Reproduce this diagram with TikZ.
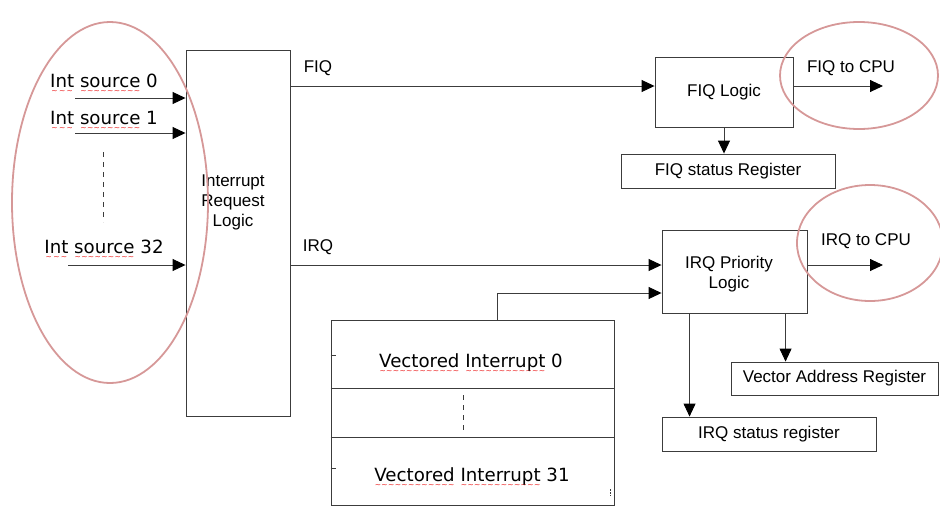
\documentclass[tikz,border=0pt]{standalone}
\usepackage{fontspec}
\setmainfont{Liberation Sans}
\newfontfamily\dejavu{DejaVu Sans}
\usetikzlibrary{arrows.meta,positioning}
\definecolor{ringred}{RGB}{214,152,152}
\definecolor{wirey}{RGB}{60,60,60}
\definecolor{spellred}{RGB}{235,30,30}
\newcommand{\spell}[1]{\setbox0\hbox{#1}\rlap{\lower6.5pt\hbox to\wd0{\color{spellred}\dejavu\fontsize{7.5}{7.5}\selectfont\xleaders\hbox{\char"223C}\hfill}}\box0\relax}

\begin{document}
\begin{tikzpicture}[x=1pt, y=-1pt,
  box/.style={draw=wirey, line width=0.9pt, inner sep=0pt, align=center, font=\fontsize{17}{20}\selectfont},
  lbl/.style={inner sep=0pt, align=center, font=\fontsize{17}{20}\selectfont},
  src/.style={inner sep=0pt, anchor=base, font=\dejavu\fontsize{18.2}{20}\selectfont},
  wire/.style={draw=wirey, line width=0.9pt},
  arr/.style={wire, -{Triangle[length=13pt,width=12pt,color=black]}},
  ring/.style={draw=ringred, line width=1.8pt}]
\useasboundingbox (0,0) rectangle (940,507);

% request logic and sources
\node[box, minimum width=104pt, minimum height=366pt] (irl) at (238,233) {};
\node[lbl] (irltext) at (233,202) {Interrupt\\Request\\Logic};
\node[src] (s0) at (104,87) {\spell{Int} \spell{source} 0};
\node[src] (s1) at (104,124) {\spell{Int} \spell{source} 1};
\node[src] (s32) at (104,253) {\spell{Int} \spell{source} 32};
\coordinate (s0in) at (75,98);
\coordinate (s1in) at (75,133);
\coordinate (s32in) at (68,265);
\draw[arr] (s0in) -- (irl.west |- s0in);
\draw[arr] (s1in) -- (irl.west |- s1in);
\draw[arr] (s32in) -- (irl.west |- s32in);
\draw[wire, dash pattern=on 5pt off 5pt] (103,152) -- (103,222);

% FIQ path
\node[lbl] (fiqlbl) at (318,68) {FIQ};
\node[box, minimum width=138pt, minimum height=70pt] (fiql) at (724,92) {FIQ Logic};
\node[lbl] (fiqcpu) at (851,68) {FIQ to CPU};
\node[box, minimum width=214pt, minimum height=34pt] (fiqsr) at (728,171) {FIQ status Register};
\coordinate (fiqline) at (0,86);
\coordinate (fiqout) at (883,86);
\draw[arr] (irl.east |- fiqline) -- (fiql.west |- fiqline);
\draw[arr] (fiql.east |- fiqout) -- (fiqout);
\draw[arr] (fiql.south) -- (fiql.south |- fiqsr.north);

% IRQ path
\node[lbl] (irqlbl) at (318,247) {IRQ};
\node[box, minimum width=145pt, minimum height=83pt] (irqpl) at (734.5,271.5) {};
\node[lbl] (irqtext) at (729,274) {IRQ Priority\\Logic};
\node[lbl] (irqcpu) at (866,241) {IRQ to CPU};
\node[box, minimum width=207pt, minimum height=33pt] (var) at (834.5,378.5) {Vector Address Register};
\node[box, minimum width=214pt, minimum height=34pt] (irqsr) at (769,434) {IRQ status register};
\coordinate (irqline) at (0,265);
\coordinate (irqout) at (883,265);
\draw[arr] (irl.east |- irqline) -- (irqpl.west |- irqline);
\draw[arr] (irqpl.east |- irqout) -- (irqout);
\draw[arr] ([xshift=28pt]irqpl.south west) -- ([xshift=28pt]irqpl.south west |- irqsr.north);
\draw[arr] ([xshift=124pt]irqpl.south west) -- ([xshift=124pt]irqpl.south west |- var.north);

% vectored interrupts
\node[box, minimum width=283pt, minimum height=185pt] (vec) at (472.5,412.5) {};
\draw[wire] (vec.west |- 0,388) -- (vec.east |- 0,388);
\draw[wire] (vec.west |- 0,437) -- (vec.east |- 0,437);
\node[src] (v0) at (471,367) {\spell{Vectored} \spell{Interrupt} 0};
\node[src] (v31) at (472,481) {\spell{Vectored} \spell{Interrupt} 31};
\draw[wire, dash pattern=on 5pt off 5pt] (463,395) -- (463,432);
\draw[wire] (vec.west |- 0,355) -- ++(5,0);
\draw[wire] (vec.west |- 0,468) -- ++(5,0);
\draw[wire, line width=0.6pt, dash pattern=on 1.5pt off 1.5pt] (610,489) -- (610,496);
\coordinate (vecup) at (497,293);
\draw[arr] (vec.north -| vecup) -- (vecup) -- (irqpl.west |- vecup);

% highlight rings
\draw[ring] (110,202.5) ellipse [x radius=98pt, y radius=180.5pt];
\draw[ring] (859,75.5) ellipse [x radius=79pt, y radius=53.5pt];
\draw[ring] (870,243) ellipse [x radius=73pt, y radius=58pt];
\end{tikzpicture}
\end{document}
